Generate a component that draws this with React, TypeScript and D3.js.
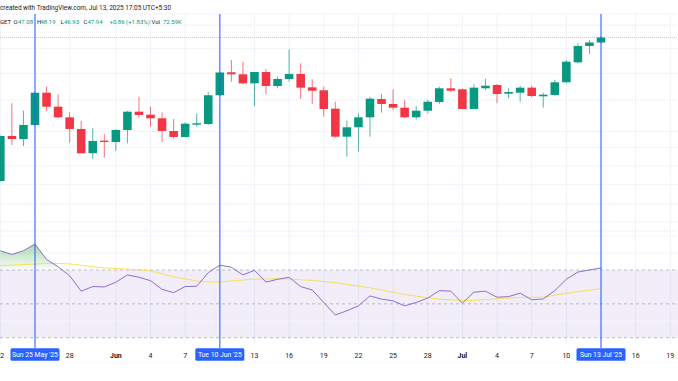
import React from "react";
import * as d3 from "d3";

const W = 678;
const H = 381;

const dates: string[] = [
  "2025-05-22", "2025-05-23", "2025-05-24", "2025-05-25", "2025-05-26", "2025-05-27", "2025-05-28",
  "2025-05-29", "2025-05-30", "2025-05-31", "2025-06-01", "2025-06-02", "2025-06-03", "2025-06-04",
  "2025-06-05", "2025-06-06", "2025-06-07", "2025-06-08", "2025-06-09", "2025-06-10", "2025-06-11",
  "2025-06-12", "2025-06-13", "2025-06-14", "2025-06-15", "2025-06-16", "2025-06-17", "2025-06-18",
  "2025-06-19", "2025-06-20", "2025-06-21", "2025-06-22", "2025-06-23", "2025-06-24", "2025-06-25",
  "2025-06-26", "2025-06-27", "2025-06-28", "2025-06-29", "2025-06-30", "2025-07-01", "2025-07-02",
  "2025-07-03", "2025-07-04", "2025-07-05", "2025-07-06", "2025-07-07", "2025-07-08", "2025-07-09",
  "2025-07-10", "2025-07-11", "2025-07-12", "2025-07-13",
];

const opens: number[] = [23.20, 30.96, 30.44, 32.85, 38.42, 36.01, 34.18, 32.17, 27.98, 30.15, 29.92, 31.99, 35.15, 34.63, 34.01, 31.82, 30.79, 32.91, 33.03, 37.98, 41.94, 41.60, 40.04, 41.99, 39.58, 40.79, 41.65, 39.35, 38.84, 35.67, 30.84, 32.46, 34.18, 37.34, 36.48, 35.84, 34.18, 35.32, 36.82, 39.18, 39.01, 35.61, 39.18, 39.75, 38.25, 38.42, 39.29, 37.80, 38.03, 40.22, 43.66, 46.48, 47.08];
const highs: number[] = [31.04, 36.60, 35.32, 38.54, 39.46, 38.15, 35.04, 33.54, 32.29, 31.25, 32.16, 35.32, 37.73, 36.01, 35.04, 33.89, 33.32, 34.87, 38.49, 41.99, 44.06, 43.77, 41.99, 42.51, 41.18, 45.91, 43.49, 40.73, 39.46, 36.87, 33.60, 34.87, 37.73, 38.20, 39.01, 37.17, 36.13, 37.17, 39.46, 40.91, 39.18, 39.87, 40.79, 39.92, 39.18, 39.63, 39.63, 38.42, 40.61, 44.06, 46.94, 47.51, 48.19];
const lows: number[] = [23.11, 29.41, 29.23, 32.68, 35.27, 34.01, 29.80, 27.98, 26.99, 27.22, 28.37, 29.70, 34.11, 32.56, 29.87, 30.49, 30.74, 32.56, 32.85, 37.85, 40.32, 39.87, 36.13, 38.15, 39.18, 40.32, 37.34, 36.48, 34.29, 30.67, 27.39, 28.25, 30.84, 34.98, 35.44, 34.01, 33.84, 34.87, 36.48, 38.49, 35.56, 35.56, 38.89, 36.60, 37.46, 36.87, 37.63, 35.84, 37.91, 40.15, 43.49, 45.10, 46.93];
const closes: number[] = [30.96, 30.44, 32.85, 38.42, 36.01, 34.18, 32.17, 27.98, 30.10, 29.92, 31.99, 35.15, 34.58, 34.01, 31.82, 30.79, 33.08, 33.15, 37.98, 41.91, 41.60, 40.04, 41.99, 39.58, 40.79, 41.65, 39.29, 38.77, 35.61, 30.84, 32.46, 34.18, 37.39, 36.48, 35.84, 34.18, 35.32, 36.87, 39.18, 38.77, 35.61, 39.29, 39.63, 38.20, 38.54, 39.29, 37.85, 38.08, 40.22, 43.77, 46.48, 47.08, 47.94];

const rsiValues: number[] = [81.4, 79.2, 81.4, 85.3, 76.3, 71.9, 66.6, 57.5, 60.2, 60.0, 62.8, 67.1, 65.7, 63.7, 58.6, 56.6, 60.2, 60.4, 68.4, 72.9, 71.6, 67.1, 69.8, 62.9, 64.5, 65.7, 60.2, 58.2, 50.8, 43.4, 45.9, 48.8, 54.7, 52.8, 51.8, 48.8, 50.8, 53.4, 57.8, 57.5, 50.4, 56.9, 57.5, 53.9, 54.3, 56.3, 52.4, 52.9, 57.8, 64.5, 68.8, 70.0, 71.2];
const rsiMaValues: number[] = [72.5, 72.9, 73.2, 73.5, 73.9, 73.8, 73.6, 72.8, 71.9, 71.2, 70.9, 70.5, 70.1, 69.5, 67.8, 66.0, 64.8, 63.5, 62.9, 62.9, 63.5, 64.1, 64.6, 64.7, 64.8, 64.6, 64.2, 63.9, 63.2, 62.6, 61.5, 60.5, 59.5, 58.2, 56.9, 55.5, 54.6, 53.7, 52.8, 52.4, 51.9, 52.1, 52.5, 53.0, 53.4, 53.8, 53.9, 53.9, 55.1, 56.2, 57.2, 58.1, 59.0];

const tickDates: string[] = ["2025-05-22", "2025-05-28", "2025-06-01", "2025-06-04", "2025-06-07", "2025-06-13", "2025-06-16", "2025-06-19", "2025-06-22", "2025-06-25", "2025-06-28", "2025-07-01", "2025-07-04", "2025-07-07", "2025-07-10", "2025-07-16", "2025-07-19"];
const tickLabels: string[] = ["22", "28", "Jun", "4", "7", "13", "16", "19", "22", "25", "28", "Jul", "4", "7", "10", "16", "19"];
const crossDates: string[] = ["2025-05-25", "2025-06-10", "2025-07-13"];
const crossLabels: string[] = ["Sun 25 May '25", "Tue 10 Jun '25", "Sun 13 Jul '25"];

const priceGrid: number[] = [46.08, 41.77, 31.70, 29.01, 25.83, 22.63, 19.23, 16.18];
const priceDotted: number[] = [52.0, 50.06, 37.17];
const rsiGrid: number[] = [80, 40];
const rsiLevels: number[] = [70, 50, 30];

const lastPrice = 47.94;

const legendTexts: string[] = ["GET", "O", "47.08", "H", "48.19", "L", "46.93", "C", "47.94", "+0.86 (+1.83%)", "Vol", "72.59K"];
const legendIsValue: boolean[] = [false, false, true, false, true, false, true, false, true, true, false, true];
const legendX: number[] = [0, 13.5, 18, 37, 40.5, 60.5, 64, 83.5, 87.5, 109.5, 151.5, 163];

const GREEN = "#089981";
const RED = "#F23645";
const BLUE = "#2962FF";
const TEXT = "#131722";
const GRID = "#f0f3fa";
const FONT = "Roboto, 'Liberation Sans', sans-serif";

export default function App() {
  const parse = d3.utcParse("%Y-%m-%d");
  const dts = dates.map((d) => parse(d) as Date);

  const x = d3
    .scaleUtc()
    .domain([parse("2025-05-25") as Date, parse("2025-07-13") as Date])
    .range([35, 601]);
  const dayW = x(parse("2025-05-26") as Date) - x(parse("2025-05-25") as Date);
  const bodyW = dayW * 0.74;

  const yP = d3.scaleLinear().domain([20, 50]).range([199.55, 25.55]);
  const yR = d3.scaleLinear().domain([30, 70]).range([337.7, 270]);

  const paneTop = 14;
  const paneBottom = 345;

  const rsiLine = d3
    .line<number>()
    .x((_, i) => x(dts[i]))
    .y((v) => yR(v));
  const obArea = d3
    .area<number>()
    .x((_, i) => x(dts[i]))
    .y0(yR(70))
    .y1((v) => yR(Math.max(v, 70)));

  const vGridDates = [...tickDates, ...crossDates].map((d) => parse(d) as Date);

  return (
    <div style={{ position: "fixed", left: 0, top: 0, width: W, height: H, background: "#fff" }}>
      <svg width={W} height={H} style={{ display: "block" }} fontFamily={FONT}>
        <defs>
          <linearGradient id="obGrad" gradientUnits="userSpaceOnUse" x1="0" x2="0" y1={yR(88)} y2={yR(70)}>
            <stop offset="0%" stopColor="#4caf50" stopOpacity={0.55} />
            <stop offset="100%" stopColor="#4caf50" stopOpacity={0.03} />
          </linearGradient>
          <clipPath id="plotClip">
            <rect x={0} y={paneTop} width={W} height={paneBottom - paneTop} />
          </clipPath>
        </defs>
        <rect width={W} height={H} fill="#fff" />

        {vGridDates.map((d, i) => (
          <line key={"vg" + i} x1={x(d)} x2={x(d)} y1={paneTop} y2={paneBottom} stroke={GRID} strokeWidth={1} />
        ))}
        {priceGrid.map((p, i) => (
          <line key={"hg" + i} x1={0} x2={W} y1={yP(p)} y2={yP(p)} stroke={GRID} strokeWidth={1} />
        ))}
        {priceDotted.map((p, i) => (
          <line key={"hd" + i} x1={0} x2={W} y1={yP(p)} y2={yP(p)} stroke="#e6e8ee" strokeWidth={1} strokeDasharray="1 1" />
        ))}
        <line x1={0} x2={W} y1={231} y2={231} stroke="#e6e8ee" strokeDasharray="1 1" />
        <line x1={0} x2={W} y1={236} y2={236} stroke="#eceef2" strokeDasharray="1 1" />
        <line x1={0} x2={W} y1={362.7} y2={362.7} stroke="#f0f1f4" strokeDasharray="1 1" />

        <rect x={0} y={yR(70)} width={W} height={yR(30) - yR(70)} fill="#7E57C2" fillOpacity={0.1} />
        {rsiGrid.map((v, i) => (
          <line key={"rg" + i} x1={0} x2={W} y1={yR(v)} y2={yR(v)} stroke={GRID} strokeWidth={1} />
        ))}
        {rsiLevels.map((v, i) => (
          <line key={"rl" + i} x1={0} x2={W} y1={yR(v)} y2={yR(v)} stroke="#9598a1" strokeOpacity={0.6} strokeWidth={1} strokeDasharray="3 3" />
        ))}

        <line x1={0} x2={W} y1={yP(lastPrice)} y2={yP(lastPrice)} stroke={GREEN} strokeOpacity={0.35} strokeWidth={1} strokeDasharray="1 1" />

        <g clipPath="url(#plotClip)">
          {dts.map((d, i) => {
            const up = closes[i] >= opens[i];
            const col = up ? GREEN : RED;
            const cx = x(d);
            const top = yP(Math.max(opens[i], closes[i]));
            const bot = yP(Math.min(opens[i], closes[i]));
            return (
              <g key={"c" + i}>
                <line x1={cx} x2={cx} y1={yP(highs[i])} y2={yP(lows[i])} stroke={col} strokeWidth={1} strokeOpacity={0.7} />
                <rect x={cx - bodyW / 2} y={top} width={bodyW} height={Math.max(bot - top, 1)} fill={col} />
              </g>
            );
          })}
        </g>

        <g clipPath="url(#plotClip)">
          <path d={obArea(rsiValues) || ""} fill="url(#obGrad)" />
          <path d={rsiLine(rsiMaValues) || ""} fill="none" stroke="#FDD835" strokeOpacity={0.8} strokeWidth={1} />
          <path d={rsiLine(rsiValues) || ""} fill="none" stroke="#7E57C2" strokeOpacity={0.85} strokeWidth={1} />
        </g>

        {crossDates.map((d, i) => {
          const cx = x(parse(d) as Date);
          return <line key={"cl" + i} x1={cx} x2={cx} y1={paneTop} y2={348} stroke={BLUE} strokeOpacity={0.8} strokeWidth={1.3} />;
        })}

        {tickDates.map((d, i) => {
          const bold = tickLabels[i] === "Jun" || tickLabels[i] === "Jul";
          return (
            <text key={"tl" + i} x={x(parse(d) as Date)} y={357.5} fontSize={7} textAnchor="middle" fill={TEXT} fontWeight={bold ? 700 : 400}>
              {tickLabels[i]}
            </text>
          );
        })}
        {crossDates.map((d, i) => {
          const cx = x(parse(d) as Date);
          const bw = 49;
          return (
            <g key={"cb" + i}>
              <rect x={cx - bw / 2} y={348.3} width={bw} height={12.4} rx={1.5} fill={BLUE} />
              <text x={cx} y={357.3} fontSize={6.8} textAnchor="middle" fill="#fff">
                {crossLabels[i]}
              </text>
            </g>
          );
        })}

        <text x={0} y={9.5} fontSize={7} fill={TEXT} textLength={171} lengthAdjust="spacingAndGlyphs">
          created with TradingView.com, Jul 13, 2025 17:05 UTC+5:30
        </text>
        {legendTexts.map((t, i) => (
          <text key={"lg" + i} x={legendX[i]} y={24} fontSize={6} fill={legendIsValue[i] ? GREEN : TEXT}>
            {t}
          </text>
        ))}
      </svg>
    </div>
  );
}
